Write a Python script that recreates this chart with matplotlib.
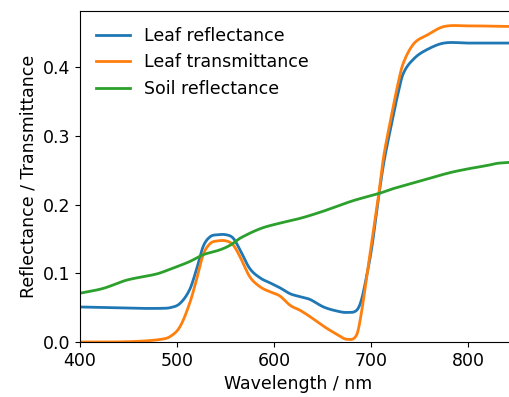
import numpy as np
import matplotlib
matplotlib.use("Agg")
import matplotlib.pyplot as plt

# spectra
wl_leaf = [400, 430, 460, 484, 493, 503, 513, 520, 527, 534, 541, 551, 558, 565,
           575, 586, 596, 606, 617, 627, 637, 651, 665, 675, 685, 690, 696, 701,
           708, 713, 720, 727, 733, 744, 757, 775, 800, 850]
leaf_refl = [0.051, 0.050, 0.049, 0.049, 0.050, 0.056, 0.076, 0.105, 0.139, 0.153,
             0.156, 0.156, 0.151, 0.134, 0.107, 0.093, 0.086, 0.079, 0.070, 0.066,
             0.062, 0.051, 0.045, 0.043, 0.046, 0.061, 0.100, 0.140, 0.213, 0.260,
             0.310, 0.357, 0.390, 0.412, 0.425, 0.435, 0.435, 0.435]
leaf_trans = [0.000, 0.000, 0.001, 0.004, 0.008, 0.022, 0.056, 0.090, 0.127, 0.143,
              0.147, 0.147, 0.141, 0.124, 0.095, 0.080, 0.073, 0.067, 0.053, 0.046,
              0.037, 0.023, 0.011, 0.004, 0.010, 0.042, 0.100, 0.148, 0.216, 0.270,
              0.322, 0.371, 0.405, 0.434, 0.446, 0.459, 0.460, 0.459]

wl_soil = [400, 424, 448, 479, 493, 513, 527, 544, 555, 565, 586, 606, 627, 650,
           680, 700, 708, 720, 750, 780, 800, 820, 830, 850]
soil_refl = [0.071, 0.078, 0.090, 0.099, 0.106, 0.117, 0.127, 0.134, 0.141, 0.151,
             0.165, 0.173, 0.180, 0.190, 0.205, 0.213, 0.216, 0.222, 0.234, 0.246,
             0.252, 0.257, 0.260, 0.262]


def smooth(x, y, n=600):
    # monotone-ish cubic through the read points (Catmull-Rom), just for looks
    x = np.asarray(x, float)
    y = np.asarray(y, float)
    xs, ys = [], []
    for i in range(len(x) - 1):
        x0, x1 = x[i], x[i + 1]
        m0 = (y[i + 1] - y[i - 1]) / (x[i + 1] - x[i - 1]) if i > 0 else (y[1] - y[0]) / (x[1] - x[0])
        m1 = (y[i + 2] - y[i]) / (x[i + 2] - x[i]) if i < len(x) - 2 else (y[-1] - y[-2]) / (x[-1] - x[-2])
        h = x1 - x0
        t = np.linspace(0, 1, 20, endpoint=False)
        h00 = 2 * t**3 - 3 * t**2 + 1
        h10 = t**3 - 2 * t**2 + t
        h01 = -2 * t**3 + 3 * t**2
        h11 = t**3 - t**2
        xs.append(x0 + t * h)
        ys.append(h00 * y[i] + h10 * h * m0 + h01 * y[i + 1] + h11 * h * m1)
    xs.append([x[-1]])
    ys.append([y[-1]])
    return np.concatenate(xs), np.concatenate(ys)


plt.rcParams['font.size'] = 12.5

fig = plt.figure(figsize=(5.09, 3.97), dpi=100)
ax = fig.add_axes([0.157, 0.1385, 0.858, 0.8335])

ax.plot(*smooth(wl_leaf, leaf_refl), lw=2, label='Leaf reflectance')
ax.plot(*smooth(wl_leaf, leaf_trans), lw=2, label='Leaf transmittance')
ax.plot(*smooth(wl_soil, soil_refl), lw=2, label='Soil reflectance')

ax.set_xlim(400, 850)
ax.set_ylim(0, 0.4815)
ax.set_xticks([400, 500, 600, 700, 800])
ax.set_yticks([0.0, 0.1, 0.2, 0.3, 0.4])
ax.set_xlabel('Wavelength / nm')
ax.set_ylabel('Reflectance / Transmittance')
ax.legend(loc='upper left', frameon=False)

fig.savefig('out.png', dpi=100)
